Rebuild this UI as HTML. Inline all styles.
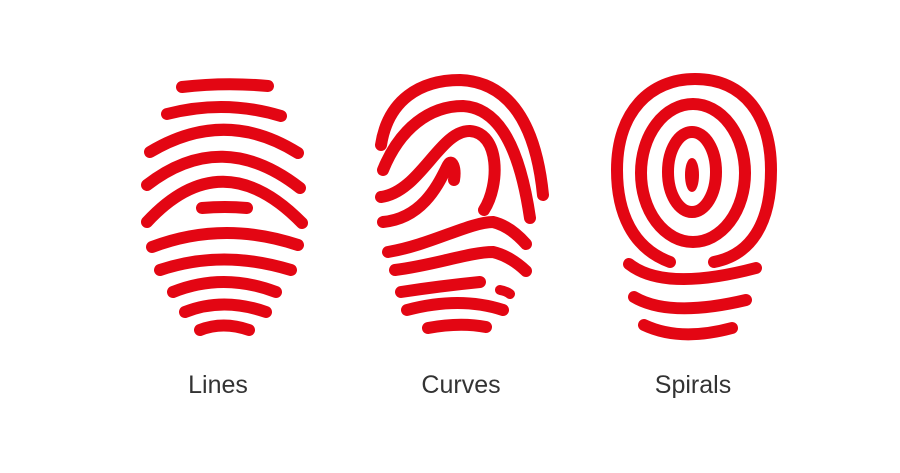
<!DOCTYPE html>
<html><head><meta charset="utf-8"><style>
html,body{margin:0;padding:0;background:#fff}
svg{display:block}
text{font-family:"Liberation Sans",sans-serif;font-size:25px;fill:#333}
</style></head><body>
<svg width="900" height="473" viewBox="0 0 900 473">
<rect width="900" height="473" fill="#fff"/>
<g fill="none" stroke="#e30613" stroke-width="12" stroke-linecap="round">
<path d="M182,87 Q225,82 268,86"/>
<path d="M167,114 Q225,99 281,116"/>
<path d="M150,152 Q225,107 298,153"/>
<path d="M147,185 Q222,127 300,188"/>
<path d="M147,222 Q222,141 302,223"/>
<path d="M202,208 Q225,206 247,208" stroke-width="12"/>
<path d="M152,247 Q223,220 298,245"/>
<path d="M160,270 Q223,249 291,270"/>
<path d="M173,292 Q223,272 276,292"/>
<path d="M185,312 Q223,297 266,312"/>
<path d="M200,330 Q223,321 249,330"/>
</g>
<g fill="none" stroke="#e30613" stroke-width="12" stroke-linecap="round">
<path d="M381,145 C388,100 420,80 460,80 C510,82 536,125 543,195"/>
<path d="M383,170 C400,128 430,106 463,106 C500,108 520,150 530,218"/>
<path d="M381,197 C420,192 440,130 470,131 C500,133 500,185 484,210"/>
<path d="M383,222 C425,218 440,180 448,165 C452,158 456,168 454,180"/>
<path d="M388,252 C430,245 470,222 493,222 Q510,226 526,244"/>
<path d="M395,270 C435,265 470,252 493,252 Q510,256 526,271"/>
<path d="M401,292 Q440,286 480,282"/>
<path d="M500,290 Q506,291 510,294" stroke-width="10"/>
<path d="M407,310 Q460,296 503,310"/>
<path d="M428,328 Q460,322 486,327"/>
</g>
<g fill="none" stroke="#e30613" stroke-width="12" stroke-linecap="round">
<path d="M670,262 C632,248 617,212 617,170 C617,112 650,79 695,79 C745,79 771,117 771,170 C771,225 750,255 714,262"/>
<ellipse cx="693" cy="173" rx="52" ry="69"/>
<ellipse cx="692" cy="172" rx="24" ry="40"/>
<ellipse cx="692" cy="175" rx="5" ry="15" fill="#e30613" stroke-width="4"/>
<path d="M629,264 Q665,292 756,268"/>
<path d="M634,297 Q670,318 746,300"/>
<path d="M644,325 Q680,342 732,328"/>
</g>
<text x="218" y="393" text-anchor="middle">Lines</text>
<text x="461" y="393" text-anchor="middle">Curves</text>
<text x="693" y="393" text-anchor="middle">Spirals</text>
</svg>
</body></html>
